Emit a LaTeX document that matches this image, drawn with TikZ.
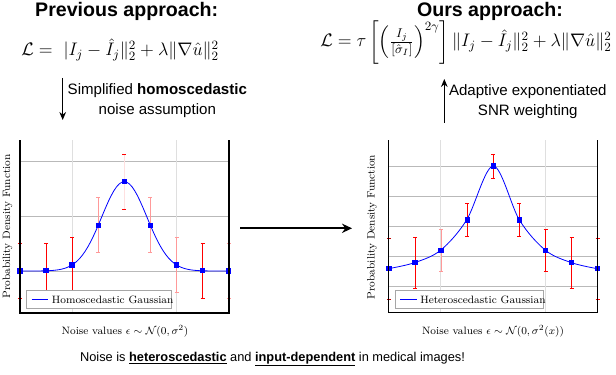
\RequirePackage{fix-cm}
\documentclass[tikz,border=0pt]{standalone}
\usepackage{amsmath,amssymb}
\usepackage{fontspec}
\newfontfamily\arialfont{Liberation Sans}
\usetikzlibrary{arrows.meta}

\begin{document}
\begin{tikzpicture}[x=0.75pt,y=-0.75pt,
    title/.style={font=\arialfont\bfseries\fontsize{14.7}{17}\selectfont,inner sep=0},
    arrowtext/.style={font=\arialfont\fontsize{11.3}{15}\selectfont,align=center,inner sep=0},
    eqn/.style={font=\fontsize{13.6}{16}\selectfont,inner sep=0},
    axlabel/.style={font=\fontsize{8}{9}\selectfont,inner sep=0},
    gridh/.style={gray!55,line width=0.5pt},
    gridv/.style={gray!25,line width=0.5pt},
    axisline/.style={black,line width=0.8pt},
    legendbox/.style={draw=gray!70,line width=0.6pt,fill=white,inner sep=0},
    datamark/.style={rectangle,fill=blue,inner sep=0,minimum size=4pt},
    gausscurve/.style={blue,line width=0.6pt},
    errline/.style={line width=0.7pt},
    barfull/.style={draw=red},
    barpale/.style={draw=red!40},
    barfaint/.style={draw=red!12},
    bardark/.style={draw=red!75!black},
    thinarrow/.style={line width=0.8pt,-{Stealth[length=6pt,width=5pt]}},
    bigarrow/.style={line width=1.4pt,-{Stealth[length=7.5pt,width=7pt]}} ]
    \useasboundingbox (0,0) rectangle (616,374);
    % titles and losses
    \node [title,anchor=base] (prevtitle) at (126.7,17) {Previous approach:};
    \node [title,anchor=base] (ourstitle) at (490,16.5) {Ours approach:};
    \node [eqn,anchor=base west] (prevloss) at (21,56) {$\mathcal{L} =\ |I_j - \hat{I}_j\|_2^2 + \lambda\|\nabla\hat{u}\|_2^2$};
    \node [eqn,anchor=base west] (oursloss) at (320,47) {$\mathcal{L} = \tau\left[\left(\frac{I_j}{[\hat{\sigma}_I]}\right)^{2\gamma}\right]\|I_j - \hat{I}_j\|_2^2 + \lambda\|\nabla\hat{u}\|_2^2$};
    % arrows between losses and plots
    \coordinate (simptop) at (62.7,78);
    \coordinate (simpbot) at (62.7,120);
    \draw [thinarrow] (simptop) -- (simpbot);
    \node [arrowtext] (simptext) at (157.3,101) {Simplified \textbf{homoscedastic}\\noise assumption};
    \coordinate (adaptbot) at (444.3,123);
    \coordinate (adapttop) at (444.3,79);
    \draw [thinarrow] (adaptbot) -- (adapttop);
    \node [arrowtext] (adapttext) at (527.8,101.5) {Adaptive exponentiated\\SNR weighting};
    \coordinate (midleft) at (240,228.3);
    \coordinate (midright) at (352,228.3);
    \draw [bigarrow] (midleft) -- (midright);
    % left plot: homoscedastic
    \foreach \gy in {161.7,216.3,271} \draw [gridh] (20,\gy) -- (229,\gy);
    \foreach \gx in {72.3,176.7} \draw [gridv] (\gx,140) -- (\gx,313);
    \foreach \ex/\lcol/\ccol in {-4/barfull/barfull,-3/barfull/barfull,-2/barfull/barfull,-1/barpale/barpale,0/barfaint/barfull,1/barpale/barpale,2/barpale/barpale,3/barfull/barfull,4/barpale/barpale} {
      \draw [errline,\lcol] ({124.3+26.1*\ex},{271-89.3*exp(-0.671*\ex*\ex)-27.5}) -- ++(0,55);
      \draw [errline,\ccol] ({124.3+26.1*\ex-2},{271-89.3*exp(-0.671*\ex*\ex)-27.5}) -- ++(4,0);
      \draw [errline,\ccol] ({124.3+26.1*\ex-2},{271-89.3*exp(-0.671*\ex*\ex)+27.5}) -- ++(4,0);
    }
    \draw [gausscurve,domain=-4:4,samples=81] plot ({124.3+26.1*\x},{271-89.3*exp(-0.671*\x*\x)});
    \foreach \ex [count=\i] in {-4,...,4}
      \node [datamark] (hom\i) at ({124.3+26.1*\ex},{271-89.3*exp(-0.671*\ex*\ex)}) {};
    \draw [axisline] (20,140) -- (20,313) -- (229,313) -- (229,140);
    \node [legendbox,minimum width=108.8pt,minimum height=13.2pt] (homlegend) at (99.2,299.5) {};
    \draw [gausscurve] (31.7,299.5) -- (48.3,299.5);
    \node [axlabel,anchor=west] (homlegtext) at (51.7,299.5) {Homoscedastic Gaussian};
    \node [axlabel,rotate=90] (homylabel) at (7.5,226.5) {Probability Density Function};
    \node [axlabel] (homxlabel) at (125,331) {Noise values $\epsilon\sim\mathcal{N}(0,\sigma^2)$};
    % right plot: heteroscedastic
    \foreach \gy in {166,196.2,226.3,256.5,286.7} \draw [gridh] (388.3,\gy) -- (597.3,\gy);
    \foreach \gx in {440,545} \draw [gridv] (\gx,140) -- (\gx,312.7);
    \foreach \ex/\lcol/\ey/\eh in {-4/bardark/268.7/30.3,-3/barfull/262.7/25.5,-2/barpale/250.3/21,-1/barfull/220/16.5,0/barfull/166/12,1/barfull/220/16.5,2/barfull/250.3/21,3/barfull/262.7/25.5,4/barfull/268.7/30.3} {
      \draw [errline,\lcol] ({493.3+26.1*\ex},{\ey-\eh}) -- ({493.3+26.1*\ex},{\ey+\eh});
      \draw [errline,\lcol] ({493.3+26.1*\ex-2},{\ey-\eh}) -- ++(4,0);
      \draw [errline,\lcol] ({493.3+26.1*\ex-2},{\ey+\eh}) -- ++(4,0);
    }
    \draw [gausscurve] plot [smooth,tension=0.55] coordinates {(388.3,268.7) (414.4,262.7) (440.5,250.3) (466.6,220) (493.3,166) (519.4,220) (545.5,250.3) (571.6,262.7) (597.3,268.7)};
    \foreach \ex/\ey [count=\i] in {-4/268.7,-3/262.7,-2/250.3,-1/220,0/166,1/220,2/250.3,3/262.7,4/268.7}
      \node [datamark] (het\i) at ({493.3+26.1*\ex},\ey) {};
    \draw [axisline] (388.3,140) -- (388.3,312.7) -- (597.3,312.7) -- (597.3,140);
    \node [legendbox,minimum width=111.2pt,minimum height=13.2pt] (hetlegend) at (469.2,299.5) {};
    \draw [gausscurve] (400,299.5) -- (416.7,299.5);
    \node [axlabel,anchor=west] (hetlegtext) at (420,299.5) {Heteroscedastic Gaussian};
    \node [axlabel,rotate=90] (hetylabel) at (372,227) {Probability Density Function};
    \node [axlabel] (hetxlabel) at (493,331) {Noise values $\epsilon\sim\mathcal{N}(0,\sigma^2(x))$};
    % bottom message
    \node [arrowtext,font=\arialfont\fontsize{9.6}{12}\selectfont] (message) at (272.5,359) {Noise is \underline{\textbf{heteroscedastic}} and \underline{\textbf{input-dependent}} in medical images!};
\end{tikzpicture}
\end{document}
